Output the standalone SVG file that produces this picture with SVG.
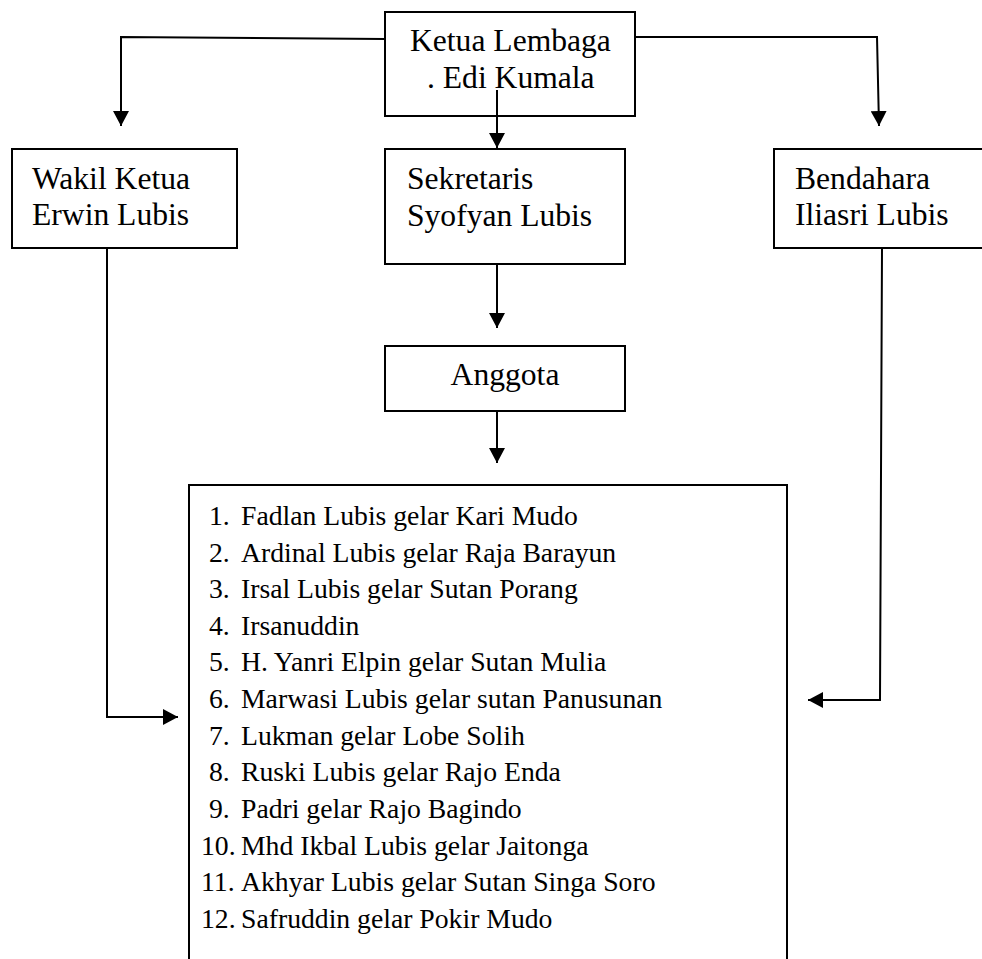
<svg xmlns="http://www.w3.org/2000/svg" width="982" height="959" viewBox="0 0 982 959">
<style>
.box{fill:#fff;stroke:#000;stroke-width:2}
.t{font-family:"Liberation Serif","Times New Roman",serif;font-size:27.7px;fill:#000}
.h{font-size:31.6px}
.ln{fill:none;stroke:#000;stroke-width:2}
</style>
<defs>
<marker id="ah" markerWidth="15" markerHeight="16" refX="15" refY="8" orient="auto" markerUnits="userSpaceOnUse">
<path d="M0,0 L15,8 L0,16 Z" fill="#000"/>
</marker>
</defs>
<rect width="982" height="959" fill="#fff"/>
<g id="ketua">
<rect class="box" x="385" y="12" width="250" height="104"/>
<text class="t h" x="410" y="51">Ketua Lembaga</text>
<text class="t h" x="427" y="88">. Edi Kumala</text>
</g>
<g id="wakil">
<rect class="box" x="12" y="149" width="225" height="99"/>
<text class="t h" x="32" y="189">Wakil Ketua</text>
<text class="t h" x="32" y="225">Erwin Lubis</text>
</g>
<g id="sekretaris">
<rect class="box" x="385" y="149" width="240" height="115"/>
<text class="t h" x="407" y="189">Sekretaris</text>
<text class="t h" x="407" y="226">Syofyan Lubis</text>
</g>
<g id="bendahara">
<rect class="box" x="774" y="149" width="220" height="99"/>
<text class="t h" x="795" y="189">Bendahara</text>
<text class="t h" x="795" y="225">Iliasri Lubis</text>
</g>
<g id="anggota">
<rect class="box" x="385" y="346" width="240" height="65"/>
<text class="t h" x="505" y="385" text-anchor="middle">Anggota</text>
</g>
<g id="members">
<rect class="box" x="189" y="485" width="598" height="490"/>
<text class="t" x="209" y="525">1.</text><text class="t" x="241" y="525">Fadlan Lubis gelar Kari Mudo</text>
<text class="t" x="209" y="562">2.</text><text class="t" x="241" y="562">Ardinal Lubis gelar Raja Barayun</text>
<text class="t" x="209" y="598">3.</text><text class="t" x="241" y="598">Irsal Lubis gelar Sutan Porang</text>
<text class="t" x="209" y="635">4.</text><text class="t" x="241" y="635">Irsanuddin</text>
<text class="t" x="209" y="671">5.</text><text class="t" x="241" y="671">H. Yanri Elpin gelar Sutan Mulia</text>
<text class="t" x="209" y="708">6.</text><text class="t" x="241" y="708">Marwasi Lubis gelar sutan Panusunan</text>
<text class="t" x="209" y="745">7.</text><text class="t" x="241" y="745">Lukman gelar Lobe Solih</text>
<text class="t" x="209" y="781">8.</text><text class="t" x="241" y="781">Ruski Lubis gelar Rajo Enda</text>
<text class="t" x="209" y="818">9.</text><text class="t" x="241" y="818">Padri gelar Rajo Bagindo</text>
<text class="t" x="201" y="855">10.</text><text class="t" x="241" y="855">Mhd Ikbal Lubis gelar Jaitonga</text>
<text class="t" x="201" y="891">11.</text><text class="t" x="241" y="891">Akhyar Lubis gelar Sutan Singa Soro</text>
<text class="t" x="201" y="928">12.</text><text class="t" x="241" y="928">Safruddin gelar Pokir Mudo</text>
</g>
<g id="connectors">
<path class="ln" d="M385,39 L121,37 L121,126" marker-end="url(#ah)"/>
<path class="ln" d="M635,37 L877,37 L879,126" marker-end="url(#ah)"/>
<path class="ln" d="M497,90 L497,148" marker-end="url(#ah)"/>
<path class="ln" d="M497,264 L497,328" marker-end="url(#ah)"/>
<path class="ln" d="M497,411 L497,463" marker-end="url(#ah)"/>
<path class="ln" d="M107,248 L107,717 L178,717" marker-end="url(#ah)"/>
<path class="ln" d="M882,248 L880,700 L808,700" marker-end="url(#ah)"/>
</g>
</svg>
